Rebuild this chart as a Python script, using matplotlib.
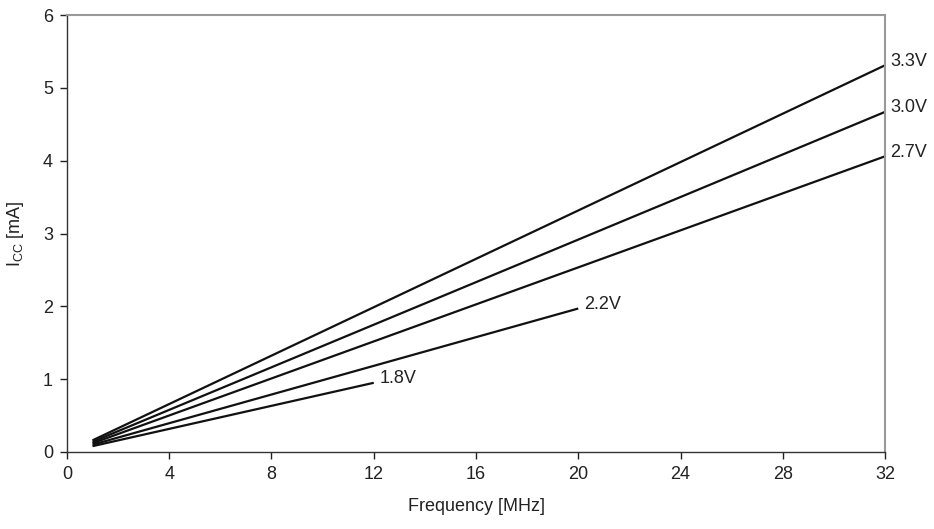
import matplotlib
matplotlib.use("Agg")
import matplotlib.pyplot as plt

plt.rcParams['font.family'] = ['Liberation Sans', 'DejaVu Sans']
plt.rcParams['mathtext.fontset'] = 'custom'
plt.rcParams['mathtext.rm'] = 'Liberation Sans'
plt.rcParams['mathtext.it'] = 'Liberation Sans'

labels = ["3.3V", "3.0V", "2.7V", "2.2V", "1.8V"]
x_start = [1, 1, 1, 1, 1]
x_end = [32, 32, 32, 20, 12]
y_start = [0.16, 0.14, 0.12, 0.10, 0.08]
y_end = [5.31, 4.67, 4.06, 1.97, 0.95]
xticks = [0, 4, 8, 12, 16, 20, 24, 28, 32]
yticks = [0, 1, 2, 3, 4, 5, 6]

fig = plt.figure(figsize=(9.34, 5.29), dpi=100)
ax = fig.add_axes([0.0717, 0.1456, 0.8759, 0.826])

for lab, x0, x1, y0, y1 in zip(labels, x_start, x_end, y_start, y_end):
    ax.plot([x0, x1], [y0, y1], color='#111111', lw=1.6, solid_capstyle='butt')
    ax.annotate(lab, (x1, y1), xytext=(4, 3), textcoords='offset points',
                ha='left', va='center', fontsize=13, color='#222222')

ax.set_xlim(0, 32)
ax.set_ylim(0, 6)
ax.set_xticks(xticks)
ax.set_yticks(yticks)
ax.tick_params(labelsize=13, colors='#222222', direction='out', length=5, width=1, pad=5)
for s in ['left', 'bottom']:
    ax.spines[s].set_color('#333333')
    ax.spines[s].set_linewidth(1.0)
for s in ['top', 'right']:
    ax.spines[s].set_color('#999999')
    ax.spines[s].set_linewidth(1.5)

ax.set_xlabel('Frequency [MHz]', fontsize=13, color='#222222', labelpad=11)
ax.set_ylabel(r'I$_{\mathrm{CC}}$ [mA]', fontsize=13, color='#222222', labelpad=12)

fig.savefig('out.png', dpi=100)
